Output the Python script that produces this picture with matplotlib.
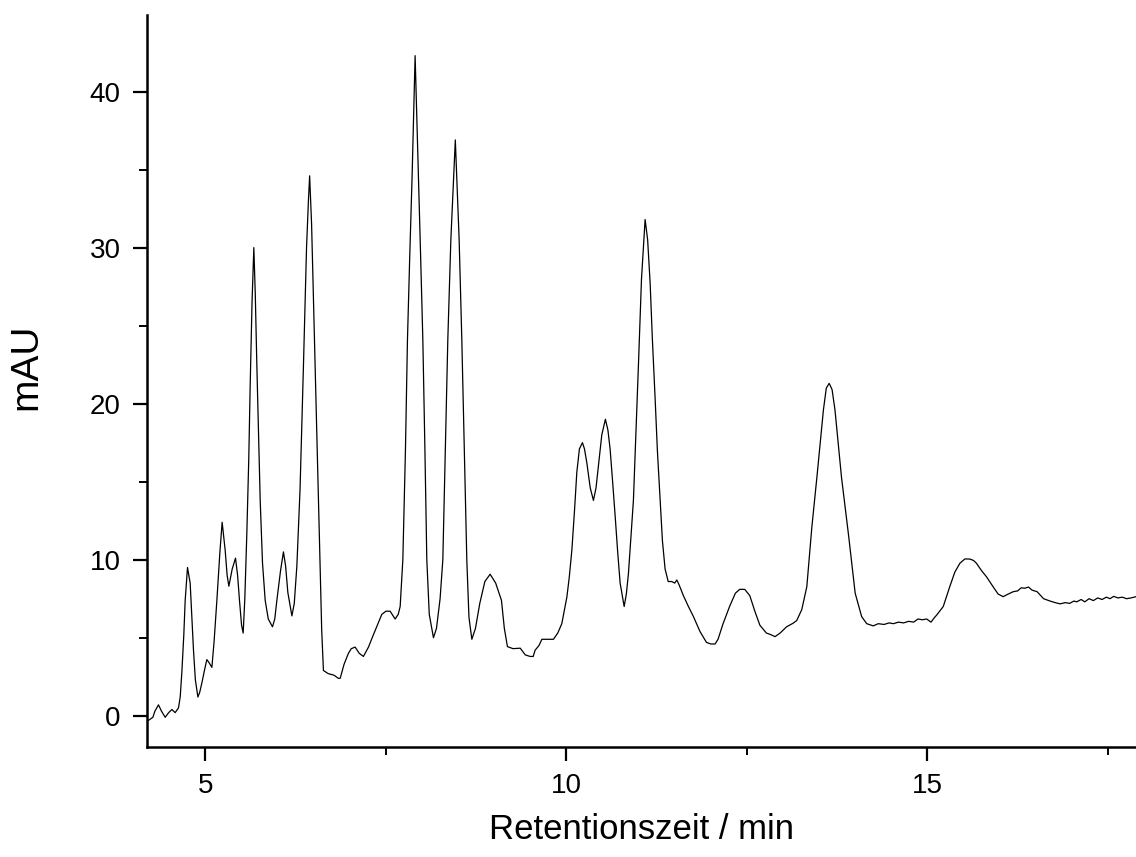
import matplotlib
matplotlib.use("Agg")
from matplotlib import pyplot as plt
from matplotlib.ticker import MultipleLocator

# Chromatogram trace (retention time in min, signal in mAU)
retention_min = [
    4.19, 4.21, 4.271, 4.30, 4.349, 4.39, 4.442, 4.49, 4.535, 4.58, 4.626, 4.65,
    4.673, 4.70, 4.719, 4.751, 4.788, 4.81, 4.834, 4.86, 4.895, 4.92, 4.95, 4.99,
    5.019, 5.05, 5.089, 5.12, 5.158, 5.20, 5.231, 5.273, 5.30, 5.324, 5.37, 5.416,
    5.445, 5.471, 5.50, 5.522, 5.545, 5.573, 5.60, 5.619, 5.645, 5.67, 5.69, 5.712,
    5.735, 5.758, 5.79, 5.827, 5.87, 5.928, 5.96, 5.989, 6.04, 6.08, 6.11, 6.141,
    6.197, 6.23, 6.266, 6.31, 6.357, 6.40, 6.427, 6.443, 6.47, 6.496, 6.543, 6.589,
    6.61, 6.634, 6.70, 6.78, 6.84, 6.866, 6.92, 6.98, 7.02, 7.073, 7.13, 7.188,
    7.258, 7.327, 7.39, 7.443, 7.50, 7.558, 7.627, 7.67, 7.697, 7.734, 7.77, 7.798,
    7.83, 7.863, 7.904, 7.95, 7.98, 8.011, 8.04, 8.066, 8.10, 8.158, 8.20, 8.25,
    8.288, 8.32, 8.357, 8.399, 8.461, 8.514, 8.551, 8.59, 8.62, 8.65, 8.69, 8.74,
    8.80, 8.87, 8.943, 9.02, 9.10, 9.14, 9.183, 9.26, 9.36, 9.43, 9.497, 9.54,
    9.566, 9.62, 9.66, 9.74, 9.82, 9.88, 9.936, 10.006, 10.04, 10.075, 10.11, 10.144,
    10.18, 10.222, 10.25, 10.283, 10.33, 10.374, 10.41, 10.443, 10.49, 10.54, 10.575, 10.605,
    10.64, 10.675, 10.71, 10.744, 10.80, 10.83, 10.859, 10.89, 10.928, 10.96, 10.997, 11.04,
    11.09, 11.125, 11.16, 11.19, 11.229, 11.26, 11.298, 11.33, 11.367, 11.41, 11.46, 11.50,
    11.529, 11.56, 11.62, 11.69, 11.76, 11.85, 11.94, 12.00, 12.06, 12.10, 12.17, 12.26,
    12.34, 12.40, 12.47, 12.54, 12.61, 12.68, 12.77, 12.83, 12.89, 12.96, 13.05, 13.14,
    13.19, 13.26, 13.33, 13.40, 13.47, 13.56, 13.60, 13.64, 13.68, 13.72, 13.81, 13.91,
    14.00, 14.09, 14.16, 14.21, 14.25, 14.32, 14.40, 14.47, 14.53, 14.60, 14.67, 14.74,
    14.81, 14.87, 14.93, 14.99, 15.05, 15.10, 15.13, 15.22, 15.31, 15.38, 15.45, 15.52,
    15.59, 15.64, 15.68, 15.75, 15.82, 15.91, 15.98, 16.05, 16.12, 16.19, 16.25, 16.30,
    16.35, 16.40, 16.45, 16.52, 16.61, 16.70, 16.77, 16.84, 16.91, 16.97, 17.03, 17.07,
    17.13, 17.18, 17.24, 17.30, 17.36, 17.42, 17.48, 17.53, 17.58, 17.64, 17.70, 17.76,
    17.82, 17.89,
]
signal_mau = [
    -0.3, -0.3, -0.1, 0.3, 0.7, 0.3, -0.1, 0.2, 0.4, 0.2, 0.5, 1.2,
    2.8, 5.2, 7.4, 9.5, 8.5, 6.5, 4.2, 2.3, 1.2, 1.5, 2.1, 3.0,
    3.6, 3.4, 3.1, 4.8, 7.4, 10.5, 12.4, 10.6, 9.0, 8.3, 9.4, 10.1,
    9.0, 7.4, 5.8, 5.3, 7.5, 11.7, 16.5, 21.1, 26.5, 30.0, 27.0, 22.4,
    18.0, 13.8, 9.8, 7.4, 6.2, 5.7, 6.2, 7.4, 9.3, 10.5, 9.6, 7.9,
    6.4, 7.2, 9.6, 14.5, 22.4, 30.0, 33.1, 34.6, 31.5, 26.7, 18.1, 9.6,
    5.5, 2.9, 2.7, 2.6, 2.4, 2.4, 3.3, 4.0, 4.3, 4.4, 4.0, 3.8,
    4.4, 5.2, 5.9, 6.5, 6.7, 6.7, 6.2, 6.5, 7.0, 10.0, 17.0, 24.1,
    29.5, 34.7, 42.3, 34.7, 29.5, 24.1, 17.0, 10.0, 6.5, 5.0, 5.6, 7.5,
    10.0, 16.5, 24.1, 30.5, 36.9, 30.5, 24.1, 16.0, 10.0, 6.3, 4.9, 5.6,
    7.2, 8.6, 9.07, 8.5, 7.4, 5.6, 4.43, 4.3, 4.33, 3.9, 3.8, 3.8,
    4.2, 4.5, 4.9, 4.9, 4.9, 5.3, 5.9, 7.6, 8.9, 10.6, 13.0, 15.6,
    17.1, 17.5, 17.1, 16.2, 14.6, 13.8, 14.6, 16.0, 18.0, 19.0, 18.3, 17.1,
    15.0, 12.8, 10.5, 8.5, 7.0, 7.8, 9.1, 11.2, 13.8, 17.8, 22.4, 28.0,
    31.8, 30.5, 27.7, 24.2, 20.3, 17.0, 13.8, 11.2, 9.4, 8.6, 8.6, 8.5,
    8.7, 8.4, 7.7, 7.0, 6.35, 5.4, 4.7, 4.6, 4.6, 4.9, 5.9, 7.0,
    7.85, 8.1, 8.1, 7.7, 6.7, 5.8, 5.3, 5.2, 5.07, 5.3, 5.7, 5.93,
    6.1, 6.8, 8.27, 12.1, 15.3, 19.6, 21.0, 21.3, 20.9, 19.6, 15.3, 11.5,
    7.85, 6.35, 5.9, 5.82, 5.76, 5.9, 5.85, 5.95, 5.9, 6.0, 5.95, 6.05,
    6.0, 6.2, 6.15, 6.2, 6.0, 6.3, 6.46, 7.0, 8.27, 9.2, 9.77, 10.05,
    10.04, 9.95, 9.77, 9.3, 8.9, 8.27, 7.8, 7.63, 7.8, 7.95, 8.0, 8.2,
    8.17, 8.25, 8.05, 7.95, 7.5, 7.35, 7.25, 7.17, 7.25, 7.2, 7.35, 7.3,
    7.45, 7.3, 7.5, 7.38, 7.55, 7.45, 7.6, 7.5, 7.65, 7.55, 7.6, 7.5,
    7.55, 7.63,
]

plt.rcParams["font.family"] = ["Liberation Sans", "DejaVu Sans"]

fig = plt.figure(figsize=(11.36, 8.57), dpi=100)
ax = fig.add_axes([0.1294, 0.1284, 0.8706, 0.854])

ax.plot(retention_min, signal_mau, color="black", linewidth=0.9)

ax.set_xlim(4.19, 17.89)
ax.set_ylim(-2.0, 44.9)

ax.xaxis.set_major_locator(MultipleLocator(5))
ax.xaxis.set_minor_locator(MultipleLocator(2.5))
ax.yaxis.set_major_locator(MultipleLocator(10))
ax.yaxis.set_minor_locator(MultipleLocator(5))

for side in ["top", "right"]:
    ax.spines[side].set_visible(False)
for side in ["left", "bottom"]:
    ax.spines[side].set_linewidth(1.8)

ax.tick_params(axis="both", which="major", direction="out", length=10, width=1.6,
               labelsize=20, pad=9)
ax.tick_params(axis="both", which="minor", direction="out", length=6, width=1.4)

ax.set_xlabel("Retentionszeit / min", fontsize=25)
ax.set_ylabel("mAU", fontsize=28)
ax.xaxis.set_label_coords(0.5, -0.09)
ax.yaxis.set_label_coords(-0.104, 0.52)

fig.savefig("out.png", dpi=100)
